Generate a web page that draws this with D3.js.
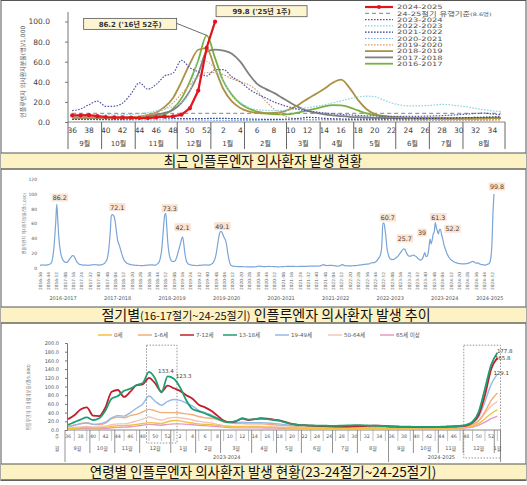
<!DOCTYPE html>
<html>
<head>
<meta charset="utf-8">
<script src="https://cdn.jsdelivr.net/npm/d3@7"></script>
<style>
  body { margin: 0; background: #fff; }
  svg { display: block; }
  text { font-family: "DejaVu Sans", "Noto Sans CJK KR", sans-serif; }
  .kr { font-family: "Noto Sans CJK KR", sans-serif; }
</style>
</head>
<body>
<svg width="527" height="485"></svg>
<script>
// ---------- data ----------
// one influenza season runs from week 36 to week 35 of the next year
const seasonWeeks = [36,37,38,39,40,41,42,43,44,45,46,47,48,49,50,51,52,
  1,2,3,4,5,6,7,8,9,10,11,12,13,14,15,16,17,18,19,20,21,22,23,24,25,26,27,28,29,30,31,32,33,34,35]

const seasonNames = ['2016-2017','2017-2018','2018-2019','2019-2020','2020-2021',
  '2021-2022','2022-2023','2023-2024','2024-2025']

// ILI rate per 1,000 outpatients, by season
const s2016 = [3.5,3.8,4.0,4.2,4.0,3.9,4.0,4.2,4.5,5.0,5.6,7.3,13.3,23.5,40.3,61.4,86.2,
  63.5,40.3,27.0,18.4,13.4,10.4,8.7,7.8,7.5,7.9,9.6,11.5,13.3,15.5,16.8,16.5,14.6,11.5,8.6,
  7.0,5.5,4.8,4.5,4.2,4.0,4.0,3.9,3.8,3.7,3.6,3.8,4.0,4.2,4.3,4.4]
const s2017 = [4.5,4.4,4.3,4.2,4.0,4.0,4.2,4.5,5.0,5.8,7.0,9.0,12.0,19.0,31.0,48.0,70.0,
  72.1,71.0,68.0,60.0,48.0,38.0,33.0,29.0,24.0,19.0,14.5,11.0,9.0,7.5,6.5,5.8,5.2,4.8,4.5,
  4.2,4.0,3.8,3.7,3.6,3.5,3.4,3.4,3.3,3.3,3.3,3.4,3.5,3.6,3.8,3.9]
const s2018 = [4.2,4.0,4.1,4.3,4.0,3.9,4.0,4.4,5.5,7.0,9.5,15.0,24.0,40.0,58.0,71.9,73.3,
  53.1,32.6,20.5,14.0,10.5,9.0,8.5,9.0,10.0,13.0,17.5,23.0,28.0,33.0,39.0,42.1,34.0,22.0,13.0,
  8.0,6.0,5.0,4.5,4.0,3.8,3.6,3.5,3.4,3.4,3.3,3.4,3.5,3.6,3.8,4.0]
const s2019 = [4.0,4.1,4.1,4.0,3.9,4.0,4.3,4.8,5.6,7.0,9.7,13.0,19.0,28.0,37.0,45.0,49.1,
  49.0,47.0,43.0,40.0,37.0,31.0,21.0,13.0,7.0,4.0,3.0,2.5,2.3,2.2,2.0,2.0,1.9,1.9,1.8,
  1.8,1.8,1.7,1.7,1.7,1.6,1.6,1.6,1.6,1.5,1.5,1.5,1.6,1.6,1.7,1.8]
const s2020 = [2.6,2.5,2.3,2.2,2.0,1.9,1.9,1.9,2.0,2.0,2.1,2.1,2.0,2.0,2.0,1.9,1.8,
  1.7,1.6,1.6,1.6,1.7,1.7,1.8,1.9,2.0,2.0,2.1,2.2,2.2,2.3,2.3,2.2,2.2,2.1,2.1,
  2.0,2.0,2.0,2.1,2.1,2.2,2.2,2.2,2.2,2.3,2.3,2.3,2.4,2.4,2.5,2.5]
const s2021 = [2.5,2.6,2.6,2.7,2.6,2.6,2.7,2.9,3.2,3.8,4.6,4.2,3.6,3.4,3.3,3.4,3.5,
  3.6,3.6,3.4,3.2,3.0,2.8,2.6,2.6,2.7,3.0,3.6,4.6,4.3,3.6,3.2,3.0,2.9,2.8,2.8,
  2.8,2.9,3.0,3.1,3.2,3.3,3.4,3.6,3.8,3.9,4.1,4.3,4.6,4.8,5.0,5.1]
const s2022 = [5.1,5.4,5.5,6.0,7.1,7.0,7.2,7.6,8.2,9.3,11.2,13.2,15.3,19.4,30.3,60.7,60.2,
  52.5,40.5,26.0,19.4,14.6,12.3,11.6,11.4,11.6,12.0,13.2,14.2,15.5,17.0,19.0,21.0,23.0,24.8,25.7,
  25.2,22.0,19.0,17.0,16.0,16.0,16.2,16.8,17.5,17.0,16.0,15.0,13.5,12.3,11.0,10.5]
const s2023 = [11.3,13.0,17.3,20.8,15.5,15.7,18.8,28.0,39.0,32.6,37.4,45.8,48.6,61.3,54.1,49.9,45.8,
  51.9,52.2,45.0,40.0,33.0,28.0,24.0,20.0,17.0,14.5,12.5,11.0,10.0,9.0,8.2,7.5,7.0,6.5,6.2,
  6.0,5.8,5.6,5.5,5.5,5.6,5.8,6.0,6.3,6.8,7.3,7.9,8.5,8.8,8.0,7.2]
const s2024 = [6.5,6.5,6.8,5.8,5.0,4.6,4.6,4.4,4.0,3.9,4.6,5.3,5.6,7.3,13.6,31.3,73.9,99.8]
const threshold = 8.6

// month blocks: [label, index of first week]
const topMonths = [['9월',0],['10월',4],['11월',8],['12월',13],['1월',17],['2월',21],
  ['3월',26],['4월',30],['5월',34],['6월',39],['7월',43],['8월',47]]
const botMonths = [['9월',0],['10월',4],['11월',8],['12월',12],['1월',17],['2월',21],
  ['3월',25],['4월',30],['5월',34],['6월',38],['7월',43],['8월',47],
  ['9월',52],['10월',56],['11월',60],['12월',64],['1월',69]]

// labelled peaks in the long series: [season index, week]
const midPeaks = [[0,52],[1,1],[2,52],[2,16],[3,52],[6,51],[6,19],[7,44],[7,49],[7,2],[8,1]]

// by age group, 2023 week 36 to 2025 week 1
const botWeeks = seasonWeeks.concat(seasonWeeks.slice(0, 18))
const age0 = [3,4,5,6,5,5,6,8,10,10,11,13,15,17,16,15,19,22,21,18,16,14,13,12,11,9,8,7.5,7.5,7,
  7,7,6.5,6,5.5,5,4.5,4.5,4,4,4,4,4,4,4,4,4,4,4,4,3.5,3.5,
  3.5,3.5,3.5,3.5,3.5,3.5,3.5,4,4,4,4.5,5,6,9,15,26,38,46]
const age1_6 = [8,11,15,17,13,12,16,26,30,28,33,36,42,47.5,44,40,40,40,39,37,35,31,28,27,24,19,16,15,15,14,
  14,14,13,12,11,10,9,8.5,8,8,7.5,7.5,7,7,7,7,7,7,7,6.5,6.5,6,
  6,5.5,5.5,5.5,5,5,5,5.5,5.5,6,6.5,7.5,9,13,22,42,68,85]
const age7_12 = [25,34,47,52,33,32,52,88,92,76,88,103,105,120,107,88,102,96,90,80,72,58,52,44,33,22,18,20,26,23,
  25,27,26,24,22,18,14,12,11,10,9.5,9,8.5,8,8,8,8.5,9,9.5,10,10,9,
  8,7.5,7,7,6.5,6.5,6.5,7,7,7.5,8,9,10,17,35,80,140,165.8]
const age13_18 = [12,18,24,29,23,27,45,72,78,90,95,103,108,133.4,118,86,123.3,118,98,68,48,43,38,32,26,20,18,21,27,24,
  25,26,25,23,21,17,14,12,11,10.5,10,10,9.5,9.5,10,10.5,11,11,10.5,10,9.5,9,
  8.5,8,7.5,7.5,7,7,7,7,7.5,8,8.5,9.5,12,19,42,95,150,177.8]
const age19_49 = [9,11,14,16,13,14,18,28,33,32,40,50,60,78,66,57,66,70,68,62,55,45,40,35,28,20,17,17,18,17,
  17,17,16,15,14,12,11,10,10,9.5,9,9,9,9,9.5,10,10,10,10,9.5,9,8.5,
  8,7.5,7,7,6.5,6.5,6.5,7,7,7.5,8,9,11,16,30,65,105,129.1]
const age50_64 = [5,6,7,8,7,7,9,12,14,14,17,21,25,30,26,23,27,29,28,26,23,20,18,16,13,10,8.5,8,8,8,
  8,8,7.5,7,6.5,6,5.5,5,5,5,4.5,4.5,4.5,4.5,4.5,5,5,5,5,5,4.5,4.5,
  4.5,4,4,4,4,4,4,4,4.5,4.5,5,6,8,12,21,38,55,65]
const age65 = [2.5,3,3.5,4,3.5,3.5,4,5,6,6.5,7.5,9,11,13,12,11,13,14,14,13,12,11,10,9,8,6.5,5.5,5,5,5,
  5,5,4.5,4.5,4,4,3.5,3.5,3.5,3.5,3.5,3.5,3.5,3.5,3.5,3.5,3.5,3.5,3.5,3.5,3.5,3,
  3,3,3,3,3,3,3,3,3,3.5,3.5,4,5,7,11,18,26,32]

// ---------- setup ----------
const svg = d3.select('svg')
const fmt = d3.format('.1~f')
const tick = d3.format('.1f')

// ================= top: season comparison =================
const xTop = d3.scaleLinear().domain([-0.5, 51.5]).range([68, 505])
const yTop = d3.scaleLinear().domain([0, 100]).range([122, 21.5])
const gTop = svg.append('g')

const yAxTop = gTop.append('g').attr('transform', 'translate(68,0)')
  .call(d3.axisLeft(yTop).tickValues([0,20,40,60,80,100]).tickFormat(tick).tickSize(3).tickPadding(15))
yAxTop.select('.domain').remove()
yAxTop.selectAll('line').attr('stroke', '#777')
yAxTop.selectAll('text').attr('font-size', 7.5).attr('fill', '#404040')

gTop.append('line').attr('x1', 68).attr('x2', 68).attr('y1', yTop(0)).attr('y2', 12)
  .attr('stroke', '#777')
gTop.append('line').attr('x1', xTop(-0.5)).attr('x2', xTop(51.5)).attr('y1', yTop(0)).attr('y2', yTop(0))
  .attr('stroke', '#888')

gTop.append('text').attr('transform', 'translate(25,' + yTop(50) + ') rotate(-90)')
  .attr('text-anchor', 'middle').attr('font-size', 6).attr('fill', '#555')
  .text('인플루엔자 의사환자분율(명)/1,000')

// week + month rows
seasonWeeks.forEach((w, i) => {
  if (w % 2 === 0) {
    gTop.append('text').attr('x', xTop(i)).attr('y', 133).attr('text-anchor', 'middle')
      .attr('font-size', 7.5).attr('fill', '#404040').text(w)
  }
})
const topEdges = topMonths.map(m => m[1]).concat([52])
topEdges.forEach(s => {
  gTop.append('line').attr('x1', xTop(s - 0.5)).attr('x2', xTop(s - 0.5))
    .attr('y1', yTop(0)).attr('y2', 149).attr('stroke', '#666')
})
topMonths.forEach((m, k) => {
  gTop.append('text').attr('x', xTop((m[1] + topEdges[k + 1] - 1) / 2)).attr('y', 145.5)
    .attr('text-anchor', 'middle').attr('font-size', 7).attr('fill', '#404040').text(m[0])
})

const topSeries = [
  { name: '2023-2024', data: s2023, color: '#55599f', width: 1.2, dash: '1.6,1.4' },
  { name: '2022-2023', data: s2022, color: '#8fd3de', width: 1.2, dash: '1.6,1.4' },
  { name: '2021-2022', data: s2021, color: '#2d3c8c', width: 1.2, dash: '1.6,1.4' },
  { name: '2020-2021', data: s2020, color: '#78ade2', width: 1.2, dash: '1.6,1.4' },
  { name: '2019-2020', data: s2019, color: '#d6a06a', width: 1.2, dash: '1.6,1.4' },
  { name: '2018-2019', data: s2018, color: '#ab9246', width: 1.8 },
  { name: '2017-2018', data: s2017, color: '#808080', width: 1.8 },
  { name: '2016-2017', data: s2016, color: '#76b043', width: 1.8 }
]
const lineTop = d3.line().x((d, i) => xTop(i)).y(d => yTop(d)).curve(d3.curveMonotoneX)

gTop.append('line').attr('x1', xTop(0)).attr('x2', xTop(51))
  .attr('y1', yTop(threshold)).attr('y2', yTop(threshold))
  .attr('stroke', '#9a9a9a').attr('stroke-width', 1.2).attr('stroke-dasharray', '4,3')

topSeries.slice().reverse().forEach(s => {
  gTop.append('path').datum(s.data).attr('d', lineTop).attr('fill', 'none')
    .attr('stroke', s.color).attr('stroke-width', s.width)
    .attr('stroke-dasharray', s.dash || null)
})

gTop.append('path').datum(s2024).attr('fill', 'none').attr('stroke', '#e3141c').attr('stroke-width', 2.2)
  .attr('d', d3.line().x((d, i) => xTop(i)).y(d => yTop(d)))
gTop.selectAll('circle.cur').data(s2024).enter().append('circle').attr('class', 'cur')
  .attr('cx', (d, i) => xTop(i)).attr('cy', d => yTop(d)).attr('r', 2.1).attr('fill', '#e3141c')

// callouts
const yearTag = (start, w) => String(w >= 36 ? start : start + 1).slice(2)
function callout(data, startYear, week, bx, by, bw, leader) {
  const i = seasonWeeks.indexOf(week)
  const px = xTop(i), py = yTop(data[i])
  const bxAbs = px + bx, byAbs = py + by
  if (leader) {
    gTop.append('line').attr('x1', bxAbs + bw).attr('y1', byAbs + 5).attr('x2', px).attr('y2', py)
      .attr('stroke', '#6a6a6a').attr('stroke-width', 1)
  }
  gTop.append('rect').attr('x', bxAbs).attr('y', byAbs).attr('width', bw).attr('height', 11)
    .attr('fill', '#fdf5d2').attr('stroke', '#555').attr('stroke-width', 0.8)
  gTop.append('text').attr('x', bxAbs + bw / 2).attr('y', byAbs + 8.3).attr('text-anchor', 'middle')
    .attr('font-size', 7).attr('font-weight', 'bold').attr('fill', '#333')
    .text(fmt(data[i]) + " ('" + yearTag(startYear, week) + '년 ' + week + '주)')
}
callout(s2016, 2016, 52, -123, -17, 93, true)
callout(s2024, 2024, 1, 1, -16, 91, false)

// legend (text drawn short and stretched, like the original)
const legendTop = [
  { name: '2024-2025', color: '#e3141c', width: 2.2, marker: true },
  { name: 'threshold', color: '#9a9a9a', width: 1.2, dash: '4,3' }
].concat(topSeries)
legendTop.forEach((s, k) => {
  const ly = 7 + k * 6.3
  gTop.append('line').attr('x1', 365).attr('x2', 393).attr('y1', ly).attr('y2', ly)
    .attr('stroke', s.color).attr('stroke-width', s.width).attr('stroke-dasharray', s.dash || null)
  if (s.marker) gTop.append('circle').attr('cx', 379).attr('cy', ly).attr('r', 2).attr('fill', s.color)
  const t = gTop.append('text').attr('transform', 'translate(397,' + (ly + 2.2) + ') scale(1.4,1)')
    .attr('font-size', 6).attr('fill', '#555')
  if (s.name === 'threshold') {
    t.append('tspan').text('24-25절기 유행기준')
    t.append('tspan').attr('font-size', 4.6).text('(' + threshold + '명)')
  } else t.text(s.name)
})

// ================= middle: long trend =================
const midAll = [].concat(s2016, s2017, s2018, s2019, s2020, s2021, s2022, s2023, s2024)
const xMid = d3.scaleLinear().domain([0, midAll.length - 1]).range([40, 494])
const yMid = d3.scaleLinear().domain([0, 120]).range([268, 179])
const gMid = svg.append('g')

const yAxMid = gMid.append('g').attr('transform', 'translate(39,0)')
  .call(d3.axisLeft(yMid).tickValues([0,20,40,60,80,100,120]).tickSize(0).tickPadding(2))
yAxMid.select('.domain').remove()
yAxMid.selectAll('text').attr('font-size', 4.5).attr('fill', '#555')
gMid.append('text').attr('transform', 'translate(26,' + yMid(60) + ') rotate(-90)')
  .attr('text-anchor', 'middle').attr('font-size', 4).attr('fill', '#777')
  .text('인플루엔자 의사환자분율(명/1,000)')

gMid.append('path').datum(midAll).attr('fill', 'none').attr('stroke', '#7ba4d8').attr('stroke-width', 1.2)
  .attr('d', d3.line().x((d, i) => xMid(i)).y(d => yMid(d)).curve(d3.curveMonotoneX))

d3.range(0, midAll.length, 8).forEach(g => {
  const s = Math.floor(g / 52), w = seasonWeeks[g % 52]
  const yr = w >= 36 ? 2016 + s : 2017 + s
  gMid.append('text').attr('transform', 'translate(' + (xMid(g) + 1.5) + ',272) rotate(-90)')
    .attr('text-anchor', 'end').attr('font-size', 4.3).attr('fill', '#666')
    .text(yr + '-' + String(w).padStart(2, '0'))
})
seasonNames.forEach((n, s) => {
  const c = s < 8 ? s * 52 + 22 : s * 52 + 13
  gMid.append('text').attr('x', xMid(c)).attr('y', 300).attr('text-anchor', 'middle')
    .attr('font-size', 5).attr('fill', '#555').text(n)
})

const midOffsets = [[3,-6],[5,-7],[4,-5],[0,-9],[2,-5],[5,-5],[1,-10],[-8,-6],[3,-5],[12,0],[3,-7]]
midPeaks.forEach((p, k) => {
  const g = p[0] * 52 + seasonWeeks.indexOf(p[1])
  const cx = xMid(g) + midOffsets[k][0], cy = yMid(midAll[g]) + midOffsets[k][1]
  const txt = fmt(midAll[g])
  const w = txt.length * 3.6 + 2
  gMid.append('rect').attr('x', cx - w / 2).attr('y', cy - 4.5).attr('width', w).attr('height', 8)
    .attr('fill', '#fbe3d2')
  gMid.append('text').attr('x', cx).attr('y', cy + 2.2).attr('text-anchor', 'middle')
    .attr('font-size', 6.3).attr('fill', '#4a3a30').text(txt)
})

// ================= bottom: by age group =================
const xBot = d3.scaleLinear().domain([-0.5, 69.5]).range([65, 500.5])
const yBot = d3.scaleLinear().domain([0, 200]).range([430, 343])
const gBot = svg.append('g')

const yAxBot = gBot.append('g').attr('transform', 'translate(67,0)')
  .call(d3.axisLeft(yBot).tickValues(d3.range(0, 201, 20)).tickFormat(tick).tickSize(2).tickPadding(6))
yAxBot.select('.domain').attr('stroke', '#777')
yAxBot.selectAll('line').attr('stroke', '#777')
yAxBot.selectAll('text').attr('font-size', 5).attr('fill', '#555')
gBot.append('text').attr('transform', 'translate(30,' + yBot(75) + ') rotate(-90)')
  .attr('text-anchor', 'middle').attr('font-size', 4.3).attr('fill', '#777')
  .text('인플루엔자 의사환자분율(명/1,000)')

gBot.append('line').attr('x1', 67).attr('x2', xBot(69.5)).attr('y1', yBot(0)).attr('y2', yBot(0))
  .attr('stroke', '#888')

// highlight boxes (weeks 49~1 and 48~1)
;[[13, 17, 443], [64, 69, 458]].forEach(b => {
  gBot.append('rect').attr('x', xBot(b[0] - 0.4)).attr('y', yBot(195))
    .attr('width', xBot(b[1] + 0.5) - xBot(b[0] - 0.4)).attr('height', b[2] - yBot(195))
    .attr('fill', 'none').attr('stroke', '#8a8a8a').attr('stroke-width', 0.9).attr('stroke-dasharray', '1.5,1.5')
})

const botSeries = [
  { name: '0세', data: age0, color: '#f3c13c', width: 1.4 },
  { name: '1-6세', data: age1_6, color: '#f3ae78', width: 1.4 },
  { name: '7-12세', data: age7_12, color: '#c1202b', width: 1.8 },
  { name: '13-18세', data: age13_18, color: '#1f9e72', width: 1.8 },
  { name: '19-49세', data: age19_49, color: '#93b9e6', width: 1.4 },
  { name: '50-64세', data: age50_64, color: '#f4c4bd', width: 1.4 },
  { name: '65세 이상', data: age65, color: '#e39bc2', width: 1.4 }
]
const lineBot = d3.line().x((d, i) => xBot(i)).y(d => yBot(d)).curve(d3.curveMonotoneX)
;[6, 5, 0, 1, 4, 2, 3].forEach(k => {
  const s = botSeries[k]
  gBot.append('path').datum(s.data).attr('d', lineBot).attr('fill', 'none')
    .attr('stroke', s.color).attr('stroke-width', s.width)
})

// legend
const legX = [98, 138, 180, 223, 275, 328, 380]
botSeries.forEach((s, k) => {
  gBot.append('line').attr('x1', legX[k]).attr('x2', legX[k] + 14).attr('y1', 335).attr('y2', 335)
    .attr('stroke', s.color).attr('stroke-width', 1.5)
  gBot.append('text').attr('x', legX[k] + 16).attr('y', 337).attr('font-size', 5.5).attr('fill', '#555')
    .text(s.name)
})

// value labels
const botLabels = [[3, 13, 9, 1.5], [3, 16, 8, 1.5], [3, 69, -0.5, 0.5], [2, 69, -2.5, 2.5], [4, 69, -4, 1]]
botLabels.forEach(l => {
  const v = botSeries[l[0]].data[l[1]]
  gBot.append('text').attr('x', xBot(l[1]) + l[2]).attr('y', yBot(v) + l[3])
    .attr('font-size', 5.5).attr('fill', '#404040').text(fmt(v))
})

// x axis rows
gBot.append('text').attr('x', 57).attr('y', 438).attr('text-anchor', 'middle').attr('font-size', 5).attr('fill', '#555').text('주')
gBot.append('text').attr('x', 57).attr('y', 450).attr('text-anchor', 'middle').attr('font-size', 5).attr('fill', '#555').text('월')
botWeeks.forEach((w, i) => {
  if (i % 2 === 0) {
    gBot.append('text').attr('x', xBot(i)).attr('y', 438).attr('text-anchor', 'middle')
      .attr('font-size', 4.8).attr('fill', '#555').text(w)
  } else {
    gBot.append('line').attr('x1', xBot(i)).attr('x2', xBot(i)).attr('y1', yBot(0)).attr('y2', 441)
      .attr('stroke', '#999').attr('stroke-width', 0.6)
  }
})
const botEdges = botMonths.map(m => m[1]).concat([70])
botEdges.forEach(s => {
  const tall = s === 0 || s === 52 || s === 70
  gBot.append('line').attr('x1', xBot(s - 0.5)).attr('x2', xBot(s - 0.5))
    .attr('y1', yBot(0)).attr('y2', tall ? 462 : 453).attr('stroke', '#777').attr('stroke-width', 0.8)
})
botMonths.forEach((m, k) => {
  gBot.append('text').attr('x', xBot((m[1] + botEdges[k + 1] - 1) / 2)).attr('y', 450)
    .attr('text-anchor', 'middle').attr('font-size', 5).attr('fill', '#555').text(m[0])
})
gBot.append('text').attr('x', xBot(25.5)).attr('y', 459).attr('text-anchor', 'middle')
  .attr('font-size', 5).attr('fill', '#555').text(seasonNames[7])
gBot.append('text').attr('x', xBot(60)).attr('y', 459).attr('text-anchor', 'middle')
  .attr('font-size', 5).attr('fill', '#555').text(seasonNames[8])

// ================= frame and title bars =================
svg.append('rect').attr('x', 1).attr('y', 0.5).attr('width', 525).attr('height', 480)
  .attr('fill', 'none').attr('stroke', '#555')

function titleBar(y0, y1) {
  svg.append('rect').attr('x', 1).attr('y', y0).attr('width', 525).attr('height', y1 - y0)
    .attr('fill', '#fdf2c3')
  svg.append('line').attr('x1', 1).attr('x2', 526).attr('y1', y0).attr('y2', y0).attr('stroke', '#555')
  svg.append('line').attr('x1', 1).attr('x2', 526).attr('y1', y1).attr('y2', y1).attr('stroke', '#666').attr('stroke-width', 1.3)
  return (y0 + y1) / 2
}
const t1 = titleBar(153, 169)
svg.append('text').attr('class', 'kr').attr('x', 263).attr('y', t1 + 5).attr('text-anchor', 'middle')
  .attr('font-size', 13.5).attr('fill', '#111').text('최근 인플루엔자 의사환자 발생 현황')

const t2 = titleBar(307, 323)
const tt2 = svg.append('text').attr('class', 'kr').attr('x', 266).attr('y', t2 + 5).attr('text-anchor', 'middle')
  .attr('font-size', 14).attr('fill', '#111')
tt2.append('tspan').text('절기별')
tt2.append('tspan').attr('font-size', 11).text('(16-17절기~24-25절기)')
tt2.append('tspan').text(' 인플루엔자 의사환자 발생 추이')

const t3 = titleBar(464, 480)
svg.append('text').attr('class', 'kr').attr('x', 263).attr('y', t3 + 5).attr('text-anchor', 'middle')
  .attr('font-size', 13.5).attr('fill', '#111').text('연령별 인플루엔자 의사환자 발생 현황(23-24절기~24-25절기)')
</script>
</body>
</html>
